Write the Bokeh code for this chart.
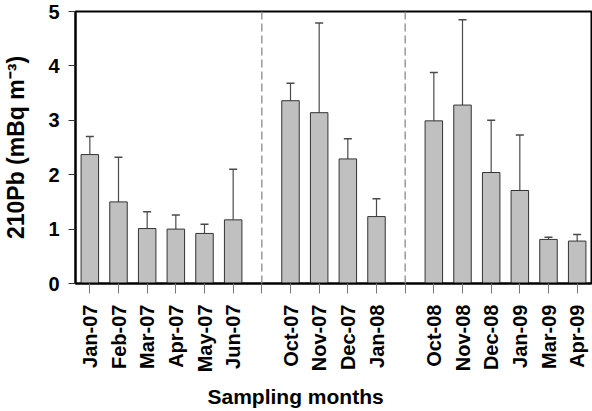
import math
from bokeh.plotting import figure
from bokeh.models import FixedTicker, Span, ColumnDataSource, Range1d
from bokeh.embed import file_html
from bokeh.resources import INLINE

# slots: 0-5 first group, 6 gap, 7-10 second group, 11 gap, 12-17 third group
months = ["Jan-07", "Feb-07", "Mar-07", "Apr-07", "May-07", "Jun-07",
          "Oct-07", "Nov-07", "Dec-07", "Jan-08",
          "Oct-08", "Nov-08", "Dec-08", "Jan-09", "Mar-09", "Apr-09"]
slots = [0, 1, 2, 3, 4, 5, 7, 8, 9, 10, 12, 13, 14, 15, 16, 17]
gap_slots = [6, 11]
means = [2.37, 1.50, 1.01, 1.00, 0.92, 1.17,
         3.36, 3.14, 2.29, 1.23,
         2.99, 3.28, 2.04, 1.71, 0.81, 0.78]
errors = [0.33, 0.82, 0.31, 0.26, 0.17, 0.93,
          0.32, 1.65, 0.37, 0.33,
          0.89, 1.57, 0.96, 1.02, 0.04, 0.12]
y_ticks = [0, 1, 2, 3, 4, 5]

FONT = "Liberation Sans"

tops = [m + e for m, e in zip(means, errors)]
src = ColumnDataSource(dict(x=slots, top=means, err=tops,
                            cl=[s - 0.14 for s in slots],
                            cr=[s + 0.14 for s in slots]))

p = figure(width=592, height=411, output_backend="svg", toolbar_location=None,
           x_range=Range1d(-0.5, 17.5), y_range=Range1d(0, 5),
           min_border_left=75, min_border_right=1, min_border_top=11,
           min_border_bottom=126)

p.xgrid.visible = False
p.ygrid.visible = False
p.outline_line_color = "black"
p.outline_line_width = 2
p.background_fill_color = "white"
p.border_fill_color = "white"

for g in gap_slots:
    p.add_layout(Span(location=g, dimension="height", line_color="#8a8a8a",
                      line_width=1.3, line_dash="8 4"))

p.segment(x0="x", y0="top", x1="x", y1="err", source=src,
          line_color="#4a4a4a", line_width=1.2)
p.segment(x0="cl", y0="err", x1="cr", y1="err", source=src,
          line_color="#4a4a4a", line_width=1.5)
p.vbar(x="x", top="top", bottom=0, width=0.61, source=src,
       fill_color="#c0c0c0", line_color="#333333", line_width=1)

# x axis
xa = p.xaxis[0]
xa.ticker = FixedTicker(ticks=list(range(18)))
overrides = {s: m for s, m in zip(slots, months)}
for g in gap_slots:
    overrides[g] = ""
xa.major_label_overrides = overrides
xa.major_label_orientation = math.pi / 2
xa.major_label_text_font = FONT
xa.major_label_text_font_style = "bold"
xa.major_label_text_font_size = "20px"
xa.major_label_text_color = "black"
xa.major_label_standoff = 11
xa.major_tick_in = 0
xa.major_tick_out = 10
xa.major_tick_line_color = "#777777"
xa.minor_tick_line_color = None
xa.axis_line_color = "black"
xa.axis_line_width = 2
# trailing no-break spaces shift the centred title left, as in the reference
xa.axis_label = "Sampling months" + "\u00A0" * 13
xa.axis_label_text_font = FONT
xa.axis_label_text_font_style = "bold"
xa.axis_label_text_font_size = "21px"
xa.axis_label_text_color = "black"
xa.axis_label_standoff = 10

ya = p.yaxis[0]
ya.ticker = FixedTicker(ticks=y_ticks)
ya.major_label_text_font = FONT
ya.major_label_text_font_style = "bold"
ya.major_label_text_font_size = "20px"
ya.major_label_text_color = "black"
ya.major_label_standoff = 9
ya.major_tick_in = 0
ya.major_tick_out = 7
ya.major_tick_line_color = "#333333"
ya.minor_tick_line_color = None
ya.axis_line_color = "black"
ya.axis_line_width = 2
ya.axis_label = "210Pb (mBq m\u207B\u00B3)"
ya.axis_label_text_font = FONT
ya.axis_label_text_font_style = "bold"
ya.axis_label_text_font_size = "23px"
ya.axis_label_text_color = "black"
ya.axis_label_standoff = 16

open("out.html", "w").write(file_html(p, INLINE))
